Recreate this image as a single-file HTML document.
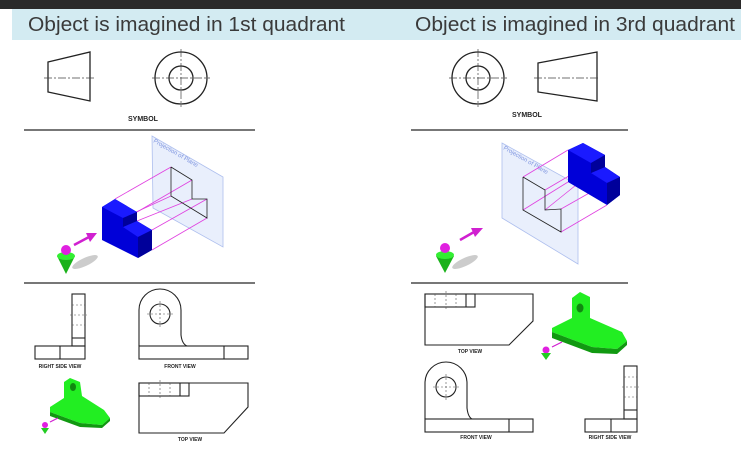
<!DOCTYPE html>
<html><head><meta charset="utf-8"><style>
html,body{margin:0;padding:0;background:#fff;}
body{width:741px;height:471px;position:relative;overflow:hidden;font-family:"Liberation Sans",sans-serif;}
svg{position:absolute;left:0;top:0;}
</style></head><body>
<svg width="741" height="471" viewBox="0 0 741 471" xmlns="http://www.w3.org/2000/svg">
<rect x="0" y="0" width="741" height="9" fill="#2a2a2a"/>
<rect x="12" y="9" width="729" height="31" fill="#d3ebf2"/>
<text x="28" y="31" font-family="Liberation Sans, sans-serif" font-size="20" fill="#3a3a3a" textLength="317" lengthAdjust="spacingAndGlyphs">Object is imagined in 1st quadrant</text>
<text x="415" y="31" font-family="Liberation Sans, sans-serif" font-size="20" fill="#3a3a3a" textLength="320" lengthAdjust="spacingAndGlyphs">Object is imagined in 3rd quadrant</text>

<g stroke="#222" stroke-width="1.3" fill="none">
<polygon points="48,62 90,52 90,101 48,92"/>
<circle cx="181" cy="78" r="26"/><circle cx="181" cy="78" r="12"/>
<circle cx="478" cy="78" r="26"/><circle cx="478" cy="78" r="12"/>
<polygon points="538,63 597,52 597,101 538,92"/>
</g>
<g stroke="#444" stroke-width="0.7" stroke-dasharray="8,2,2,2" fill="none">
<line x1="44" y1="78" x2="94" y2="78"/><line x1="152" y1="78" x2="210" y2="78"/><line x1="181" y1="49" x2="181" y2="107"/>
<line x1="449" y1="78" x2="507" y2="78"/><line x1="478" y1="49" x2="478" y2="107"/><line x1="534" y1="78" x2="600" y2="78"/>
</g>
<text x="143" y="121" font-size="7" font-weight="bold" text-anchor="middle" fill="#222">SYMBOL</text>
<text x="527" y="117" font-size="7" font-weight="bold" text-anchor="middle" fill="#222">SYMBOL</text>

<rect x="24" y="129" width="231" height="2" fill="#777"/>
<rect x="24" y="282" width="231" height="2" fill="#777"/>
<rect x="411" y="129" width="217" height="2" fill="#777"/>
<rect x="411" y="282" width="217" height="2" fill="#777"/>

<!-- left middle -->
<polygon points="152,136 223,177 223,247 153,208" fill="#dfe8fb" fill-opacity="0.7" stroke="#aebfee" stroke-width="0.8"/>
<text x="153" y="142" font-size="6" fill="#7f95e0" transform="rotate(30 153 142)">Projection of Plane</text>
<g stroke="#e040e0" stroke-width="0.8" fill="none">
<line x1="115" y1="199" x2="171" y2="167"/><line x1="137" y1="212" x2="192" y2="180"/>
<line x1="137" y1="221" x2="192" y2="199"/><line x1="152" y1="230" x2="207" y2="199"/>
<line x1="152" y1="250" x2="207" y2="218"/><line x1="123" y1="218" x2="171" y2="196"/>
</g>
<polyline points="171,167 192,180 192,199 207,199 207,218 171,196 171,167" fill="none" stroke="#222" stroke-width="0.8"/>
<polygon points="102,207 115,199 137,212 137,221 152,230 152,250 138,258 102,240" fill="#0000d8"/>
<polygon points="102,207 115,199 137,212 123,218" fill="#1a1aff"/>
<polygon points="123,227 137,221 152,230 138,237" fill="#1a1aff"/>
<polygon points="138,237 152,230 152,250 138,258" fill="#00009a"/>
<polygon points="123,218 137,212 137,221 123,227" fill="#00009a"/>
<ellipse cx="85" cy="262" rx="14" ry="4" fill="#ccc" transform="rotate(-25 85 262)"/>
<polygon points="57,256 75,256 66,274" fill="#1bb21b"/>
<ellipse cx="66" cy="256" rx="9" ry="4" fill="#33ee33"/>
<circle cx="66" cy="250" r="5" fill="#e020e0"/>
<line x1="74" y1="245" x2="89" y2="237" stroke="#d020d0" stroke-width="2.5"/>
<polygon points="86,233 97,233 90,242" fill="#d020d0"/>

<!-- right middle -->
<polygon points="502,143 578,185 578,264 502,218" fill="#dfe8fb" fill-opacity="0.7" stroke="#aebfee" stroke-width="0.8"/>
<text x="503" y="149" font-size="6" fill="#7f95e0" transform="rotate(30 503 149)">Projection of Plane</text>
<g stroke="#e040e0" stroke-width="0.8" fill="none">
<line x1="523" y1="177" x2="568" y2="150"/><line x1="545" y1="190" x2="591" y2="163"/>
<line x1="545" y1="210" x2="591" y2="173"/><line x1="523" y1="210" x2="568" y2="182"/>
<line x1="561" y1="209" x2="607" y2="183"/><line x1="561" y1="232" x2="607" y2="205"/>
</g>
<polyline points="523,177 545,190 545,210 561,209 561,232 523,210 523,177" fill="none" stroke="#222" stroke-width="0.8"/>
<polygon points="568,150 583,143 605,155 605,167 620,177 620,195 607,205 568,182" fill="#0000d8"/>
<polygon points="568,150 583,143 605,155 591,163" fill="#1a1aff"/>
<polygon points="591,173 605,167 620,177 607,183" fill="#1a1aff"/>
<polygon points="591,163 605,155 605,167 591,173" fill="#00009a"/>
<polygon points="607,183 620,177 620,195 607,205" fill="#00009a"/>
<ellipse cx="465" cy="262" rx="14" ry="4" fill="#ccc" transform="rotate(-25 465 262)"/>
<polygon points="436,256 454,256 445,273" fill="#1bb21b"/>
<ellipse cx="445" cy="255" rx="9" ry="4" fill="#33ee33"/>
<circle cx="445" cy="248" r="5" fill="#e020e0"/>
<line x1="460" y1="240" x2="474" y2="232" stroke="#d020d0" stroke-width="2.5"/>
<polygon points="471,228 483,228 475,237" fill="#d020d0"/>

<!-- left bottom views -->
<g stroke="#222" stroke-width="1.1" fill="none">
<rect x="72" y="294" width="13" height="52"/>
<line x1="72" y1="338" x2="85" y2="338"/>
<rect x="35" y="346" width="50" height="13"/><line x1="60" y1="346" x2="60" y2="359"/>
<path d="M139,346 V310 A21,21 0 0 1 181,310 V335 Q182,344 187,346"/>
<circle cx="160" cy="314" r="10"/>
<rect x="139" y="346" width="109" height="13"/><line x1="224" y1="346" x2="224" y2="359"/>
<path d="M139,383 H248 V407 L224,433 H139 Z"/>
<rect x="139" y="383" width="50" height="13"/><line x1="180" y1="383" x2="180" y2="396"/>
</g>
<g stroke="#555" stroke-width="0.6" stroke-dasharray="2,2" fill="none">
<line x1="72" y1="305" x2="85" y2="305"/><line x1="72" y1="325" x2="85" y2="325"/><line x1="70" y1="315" x2="87" y2="315"/>
<line x1="149" y1="383" x2="149" y2="396"/><line x1="170" y1="383" x2="170" y2="396"/><line x1="160" y1="380" x2="160" y2="398"/>
<line x1="147" y1="314" x2="173" y2="314"/><line x1="160" y1="301" x2="160" y2="327"/>
</g>
<text x="60" y="368" font-size="5" font-weight="bold" text-anchor="middle" fill="#222">RIGHT SIDE VIEW</text>
<text x="180" y="368" font-size="5" font-weight="bold" text-anchor="middle" fill="#222">FRONT VIEW</text>
<text x="190" y="441" font-size="5" font-weight="bold" text-anchor="middle" fill="#222">TOP VIEW</text>
<polygon points="50,407 64,398 64,382 70,378 80,382 82,396 104,410 110,418 102,425 80,423 50,412" fill="#22ee22"/>
<polygon points="50,412 80,423 80,427 50,416" fill="#119911"/>
<polygon points="80,423 102,425 110,418 110,421 102,428 80,427" fill="#119911"/>
<ellipse cx="73" cy="387" rx="3" ry="4" fill="#118811"/>
<circle cx="45" cy="425" r="3" fill="#e020e0"/><polygon points="41,428 49,428 45,434" fill="#22cc22"/>
<line x1="50" y1="422" x2="58" y2="418" stroke="#d020d0" stroke-width="1.2"/>

<!-- right bottom views -->
<g stroke="#222" stroke-width="1.1" fill="none">
<path d="M425,294 H533 V321 L509,345 H425 Z"/>
<rect x="425" y="294" width="50" height="13"/><line x1="466" y1="294" x2="466" y2="307"/>
<path d="M425,419 V383 A21,21 0 0 1 467,383 V408 Q468,417 472,419"/>
<circle cx="446" cy="387" r="10"/>
<rect x="425" y="419" width="108" height="13"/><line x1="509" y1="419" x2="509" y2="432"/>
<rect x="624" y="366" width="13" height="53"/><line x1="624" y1="410" x2="637" y2="410"/>
<rect x="585" y="419" width="52" height="13"/><line x1="611" y1="419" x2="611" y2="432"/>
</g>
<g stroke="#555" stroke-width="0.6" stroke-dasharray="2,2" fill="none">
<line x1="435" y1="294" x2="435" y2="307"/><line x1="456" y1="294" x2="456" y2="307"/><line x1="446" y1="291" x2="446" y2="309"/>
<line x1="433" y1="387" x2="459" y2="387"/><line x1="446" y1="374" x2="446" y2="400"/>
<line x1="624" y1="377" x2="637" y2="377"/><line x1="624" y1="397" x2="637" y2="397"/><line x1="622" y1="387" x2="639" y2="387"/>
</g>
<text x="470" y="353" font-size="5" font-weight="bold" text-anchor="middle" fill="#222">TOP VIEW</text>
<text x="476" y="439" font-size="5" font-weight="bold" text-anchor="middle" fill="#222">FRONT VIEW</text>
<text x="610" y="439" font-size="5" font-weight="bold" text-anchor="middle" fill="#222">RIGHT SIDE VIEW</text>
<polygon points="552,328 572,318 572,298 580,292 590,297 590,318 622,332 627,341 617,349 592,347 552,332" fill="#22ee22"/>
<polygon points="552,332 592,347 592,353 552,338" fill="#119911"/>
<polygon points="592,347 617,349 627,341 627,345 617,354 592,353" fill="#119911"/>
<ellipse cx="580" cy="308" rx="3.5" ry="4.5" fill="#118811"/>
<circle cx="546" cy="350" r="3.5" fill="#e020e0"/><polygon points="541,353 551,353 546,360" fill="#22cc22"/>
<line x1="552" y1="347" x2="562" y2="342" stroke="#d020d0" stroke-width="1.2"/>
</svg>
</body></html>
